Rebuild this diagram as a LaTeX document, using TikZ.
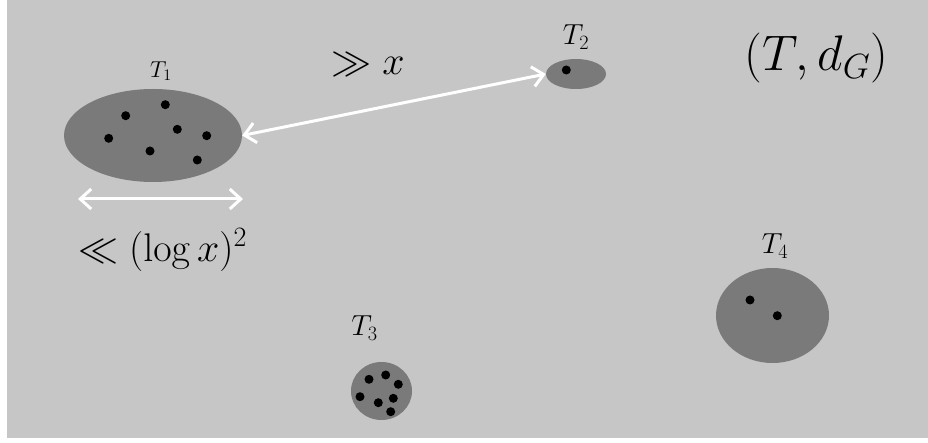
\RequirePackage{fix-cm}
\documentclass[tikz,border=0pt]{standalone}
\usetikzlibrary{arrows.meta,shapes.geometric}
\definecolor{bggray}{RGB}{198,198,198}
\definecolor{blobgray}{RGB}{122,122,122}
\begin{document}
\begin{tikzpicture}[x=1pt,y=-1pt,
  blob/.style={ellipse,fill=blobgray,inner sep=0pt,draw=none},
  pt/.style={circle,fill=black,inner sep=0pt,minimum size=9pt},
  tlab/.style={inner sep=0pt,font=\fontsize{29}{34}\selectfont},
  biglab/.style={inner sep=0pt,font=\fontsize{40}{48}\selectfont},
  wline/.style={white,line width=3pt,{Straight Barb[length=11pt,width=20pt,line width=3pt]}-{Straight Barb[length=11pt,width=20pt,line width=3pt]}}
]
\useasboundingbox[fill=white] (0,0) rectangle (928,443);
\fill[bggray] (7,0) rectangle (928,438);
% clusters
\node[blob,minimum width=178pt,minimum height=93pt] (t1) at (153,135.5) {};
\node[blob,minimum width=60pt,minimum height=30pt] (t2) at (576,74) {};
\node[blob,minimum width=61pt,minimum height=58pt] (t3) at (381.5,391) {};
\node[blob,minimum width=113pt,minimum height=95pt] (t4) at (772.5,315.5) {};
% points of T1
\node[pt] (p11) at (125.7,115.7) {};
\node[pt] (p12) at (165.3,104.7) {};
\node[pt] (p13) at (177.3,129.3) {};
\node[pt] (p14) at (206.7,135.7) {};
\node[pt] (p15) at (108.7,138.3) {};
\node[pt] (p16) at (150,151) {};
\node[pt] (p17) at (197.3,160) {};
% point of T2
\node[pt] (p21) at (566.3,70) {};
% points of T3
\node[pt] (p31) at (369,379.3) {};
\node[pt] (p32) at (385.7,375) {};
\node[pt] (p33) at (398.3,384.3) {};
\node[pt] (p34) at (360,396.7) {};
\node[pt] (p35) at (378.3,402.7) {};
\node[pt] (p36) at (393.3,398.3) {};
\node[pt] (p37) at (390.7,411.7) {};
% points of T4
\node[pt] (p41) at (750,300) {};
\node[pt] (p42) at (777.3,315.7) {};
% labels
\node[tlab,font=\fontsize{23}{28}\selectfont] (l1) at (161,71) {$T_1$};
\node[tlab] (l2) at (576,37) {$T_2$};
\node[tlab] (l3) at (364.5,328) {$T_3$};
\node[tlab] (l4) at (775,246) {$T_4$};
\node[inner sep=0pt,font=\fontsize{50}{60}\selectfont] (title) at (816.5,58.5) {$(T,d_G)$};
\node[biglab] (far) at (368,65) {$\gg x$};
\node[biglab] (diam) at (162.5,250) {$\ll (\log x)^2$};
% connectors
\draw[wline] (t1.east) -- (t2.west);
\coordinate (d1) at (78,199);
\coordinate (d2) at (243,199);
\draw[wline] (d1) -- (d2);
\end{tikzpicture}
\end{document}
